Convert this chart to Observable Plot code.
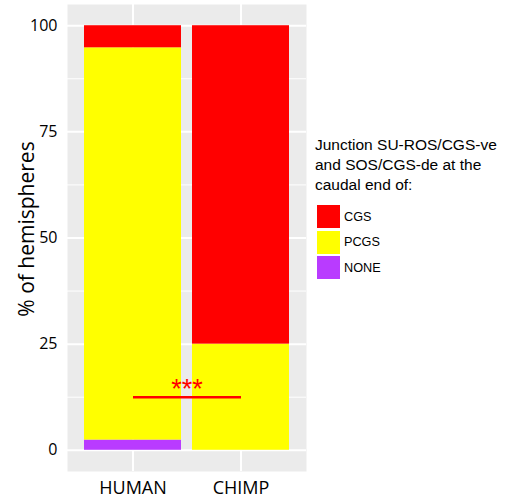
<!DOCTYPE html>
<html>
<head>
<meta charset="utf-8">
<script src="https://cdn.jsdelivr.net/npm/d3@7"></script>
<script src="https://cdn.jsdelivr.net/npm/@observablehq/plot@0.6"></script>
<style>
  body { margin: 0; background: white; }
  #wrap { position: relative; width: 511px; height: 501px; }
  #legend { position: absolute; left: 315px; top: 135px; font-family: "Liberation Sans", Arial, sans-serif; color: black; }
  #legend .title { font-size: 15.5px; line-height: 20px; white-space: nowrap; }
  #legend .items { margin-top: 9px; margin-left: 2px; }
  #legend .item { display: flex; align-items: center; height: 25.5px; }
  #legend .sw { width: 23px; height: 23px; margin-right: 4px; }
  #legend .lab { font-size: 12.7px; }
</style>
</head>
<body>
<div id="wrap"><div id="chart"></div><div id="legend"></div></div>
<script>
const species = ["HUMAN", "CHIMP"];
const classes = ["NONE", "PCGS", "CGS"];
const legendOrder = ["CGS", "PCGS", "NONE"];
const colors = ["#B93BFF", "#FFFF00", "#FF0000"];
const humanValues = [2.4, 92.4, 5.2];
const chimpValues = [0, 25, 75];
const yTicks = [0, 25, 50, 75, 100];
const yMinor = [12.5, 37.5, 62.5, 87.5];
const sigY = 12.5;
const sigLabel = "***";
const legendTitle = ["Junction SU-ROS/CGS-ve", "and SOS/CGS-de at the", "caudal end of:"];

const data = [];
classes.forEach((c, i) => {
  data.push({species: "HUMAN", cls: c, pct: humanValues[i]});
  data.push({species: "CHIMP", cls: c, pct: chimpValues[i]});
});

const chart = Plot.plot({
  width: 511,
  height: 501,
  marginLeft: 67,
  marginRight: 205,
  marginTop: 4,
  marginBottom: 30,
  style: {fontFamily: "'Open Sans', sans-serif", color: "black", background: "white"},
  x: {domain: species, paddingInner: 0.1, paddingOuter: 0.15, align: 0.5},
  y: {domain: [-5, 105]},
  color: {domain: classes, range: colors},
  marks: [
    Plot.frame({fill: "#EBEBEB", stroke: null}),
    Plot.ruleY(yMinor, {stroke: "white", strokeWidth: 1}),
    Plot.ruleY(yTicks, {stroke: "white", strokeWidth: 2}),
    Plot.gridX({stroke: "white", strokeOpacity: 1, strokeWidth: 2}),
    Plot.barY(data, {x: "species", y: "pct", fill: "cls", order: classes}),
    Plot.link([{a: species[0], b: species[1], y: sigY}], {x1: "a", x2: "b", y1: "y", y2: "y", stroke: "#FF0000", strokeWidth: 2.5}),
    Plot.text([{y: sigY, t: sigLabel}], {y: "y", text: "t", frameAnchor: "middle", textAnchor: "middle", fill: "#FF0000", fontSize: 27, fontFamily: "'Liberation Sans', Arial, sans-serif", lineAnchor: "middle", dy: -8}),
    Plot.axisY({ticks: yTicks, tickSize: 0, tickPadding: 10, fontSize: 16, label: null}),
    Plot.axisX({tickSize: 0, tickPadding: 10, fontSize: 18, label: null}),
    Plot.text(["% of hemispheres"], {frameAnchor: "left", textAnchor: "middle", rotate: -90, dx: -40, dy: -9, fontSize: 21})
  ]
});
document.getElementById("chart").appendChild(chart);

const lg = document.getElementById("legend");
const t = document.createElement("div");
t.className = "title";
t.innerHTML = legendTitle.join("<br>");
lg.appendChild(t);
const items = document.createElement("div");
items.className = "items";
legendOrder.forEach(c => {
  const it = document.createElement("div");
  it.className = "item";
  const sw = document.createElement("div");
  sw.className = "sw";
  sw.style.background = colors[classes.indexOf(c)];
  const lab = document.createElement("span");
  lab.className = "lab";
  lab.textContent = c;
  it.appendChild(sw);
  it.appendChild(lab);
  items.appendChild(it);
});
lg.appendChild(items);
</script>
</body>
</html>
